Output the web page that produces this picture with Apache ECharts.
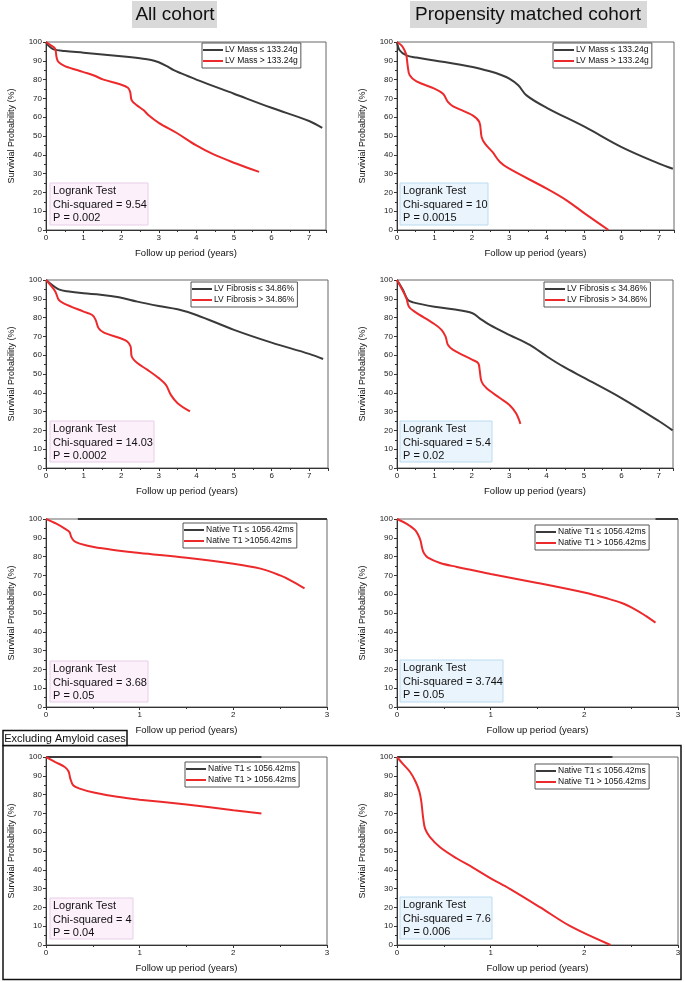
<!DOCTYPE html>
<html>
<head>
<meta charset="utf-8">
<script src="https://cdn.jsdelivr.net/npm/echarts@6/dist/echarts.min.js"></script>
<style>html,body{margin:0;padding:0;background:#fff;}#c{width:685px;height:982px;}</style>
</head>
<body>
<div id="c"></div>
<script>
// ---------- data ----------
const massAllLow = [[0,100],[0.06,98.2],[0.2,96.1],[0.5,95.2],[1,94.3],[2,92.4],[2.5,91.3],[2.8,90.4],[3,89.2],[3.2,87.3],[3.4,85],[3.6,83.3],[4,80],[5,72.5],[6,65],[7,58],[7.35,54.3]];
const massAllHigh = [[0,100],[0.1,98.6],[0.24,96.5],[0.28,92],[0.33,89.4],[0.5,87.2],[1,84],[1.26,82.3],[1.53,80],[1.97,77.5],[2.18,75.7],[2.24,73.4],[2.28,69],[2.42,66.3],[2.6,63.7],[2.73,61],[3,57],[3.48,51.6],[4,45],[4.46,40.2],[5,35.8],[5.67,30.9]];
const massPsmLow = [[0,100],[0.07,95.6],[0.25,92.9],[0.52,91.7],[1,90.2],[2.02,86.7],[2.48,84.4],[2.8,82.3],[3,80.5],[3.24,77],[3.46,71.6],[4,65],[5.02,54.8],[6,44.1],[7,35.3],[7.37,32.6]];
const massPsmHigh = [[0,100],[0.12,98.2],[0.2,95.6],[0.25,92.9],[0.29,86.7],[0.34,82.3],[0.52,79],[1,75.2],[1.23,72.5],[1.36,68.1],[1.5,65.8],[2.02,61],[2.2,57.4],[2.26,49.5],[2.35,45.9],[2.55,41.5],[2.75,36.2],[3,32.6],[4,22],[4.53,15.8],[5.02,8.7],[5.65,0]];
const fibAllLow = [[0,100],[0.2,96.8],[0.34,95],[0.56,94],[1,92.9],[1.45,92.2],[1.94,90.8],[2.43,88.5],[3,86.2],[3.5,84.4],[4,81.4],[5,73.5],[6,66.7],[7,60.7],[7.37,58]];
const fibAllHigh = [[0,100],[0.12,97.3],[0.25,93.8],[0.34,89.4],[0.47,87.6],[1,83.2],[1.23,81.4],[1.32,78.8],[1.4,74.3],[1.54,72],[1.98,69],[2.16,67.3],[2.25,64.6],[2.28,59.3],[2.43,55.8],[2.7,52.2],[3,47.8],[3.19,44.2],[3.32,38.9],[3.5,34.5],[3.83,30.1]];
const fibPsmLow = [[0,100],[0.16,94.7],[0.29,89.4],[0.43,88.1],[1,85.8],[1.5,84.4],[2.02,82.3],[2.21,79.6],[2.48,76.1],[3,70.8],[3.55,65.5],[4.01,59.3],[4.44,54],[5.02,47.8],[6,37.2],[7,25],[7.37,20]];
const fibPsmHigh = [[0,100],[0.12,95.6],[0.25,90.3],[0.32,85.8],[0.47,83.2],[1,76.6],[1.19,73.5],[1.3,69.9],[1.36,65.5],[1.5,62.8],[2.02,57.5],[2.17,55.8],[2.21,52.2],[2.26,46],[2.39,42.5],[2.75,37.2],[3,33.6],[3.18,29.2],[3.3,23.5]];
const t1AllLow = [[0.34,100],[3,100]];
const t1AllHigh = [[0,100],[0.11,97.5],[0.2,94.9],[0.25,93.1],[0.27,90.4],[0.3,88.3],[0.36,86.9],[0.51,85.1],[0.76,83.3],[1,81.9],[1.5,79.4],[2,76.2],[2.29,73.6],[2.5,70],[2.61,67.4],[2.76,63.1]];
const t1PsmLow = [[2.76,100],[3,100]];
const t1PsmHigh = [[0,100],[0.1,97.5],[0.19,94.3],[0.22,92.2],[0.25,88.7],[0.27,84.2],[0.29,81.6],[0.33,79.4],[0.46,76.6],[0.64,74.5],[0.81,72.7],[1,70.7],[1.5,66],[2,60.9],[2.24,57.8],[2.4,55.3],[2.55,51.7],[2.66,48.3],[2.76,44.9]];
const exAllLow = [[0,100],[2.3,100]];
const exAllHigh = [[0,100],[0.1,97.3],[0.2,94.7],[0.24,92.4],[0.26,88.5],[0.29,85],[0.36,83.2],[0.51,81.1],[0.76,78.8],[1,77.3],[1.5,74.7],[2,71.7],[2.3,69.9]];
const exPsmLow = [[0,100],[2.3,100]];
const exPsmHigh = [[0,100],[0.06,96.5],[0.14,92],[0.2,86.7],[0.24,81.4],[0.26,76.1],[0.28,67.3],[0.3,61.9],[0.35,57.5],[0.46,52],[0.64,46],[0.81,41.2],[1,35.5],[1.2,30],[1.53,20],[1.85,10],[2.28,0]];

const lowNames = ['LV Mass ≤ 133.24g','LV Mass ≤ 133.24g','LV Fibrosis ≤ 34.86%','LV Fibrosis ≤ 34.86%','Native T1 ≤ 1056.42ms','Native T1 ≤ 1056.42ms','Native T1 ≤ 1056.42ms','Native T1 ≤ 1056.42ms'];
const highNames = ['LV Mass > 133.24g','LV Mass > 133.24g','LV Fibrosis > 34.86%','LV Fibrosis > 34.86%','Native T1 >1056.42ms','Native T1 > 1056.42ms','Native T1 > 1056.42ms','Native T1 > 1056.42ms'];
const lowData = [massAllLow,massPsmLow,fibAllLow,fibPsmLow,t1AllLow,t1PsmLow,exAllLow,exPsmLow];
const highData = [massAllHigh,massPsmHigh,fibAllHigh,fibPsmHigh,t1AllHigh,t1PsmHigh,exAllHigh,exPsmHigh];
const xMax = [7.45,7.4,7.5,7.38,3,3,3,3];
const chiSq = ['9.54','10','14.03','5.4','3.68','3.744','4','7.6'];
const pVals = ['0.002','0.0015','0.0002','0.02','0.05','0.05','0.04','0.006'];
const columnTitles = ['All cohort','Propensity matched cohort'];
const yName = 'Survivial Probability (%)';
const xName = 'Follow up period (years)';
const frameLabel = 'Excluding Amyloid cases';

// ---------- layout ----------
const FONT = 'Liberation Sans, Arial, Helvetica, sans-serif';
const grids = [
  {left:46,top:42,width:280},{left:397,top:42,width:277},
  {left:46,top:280,width:282},{left:397,top:280,width:276},
  {left:46,top:519,width:281},{left:397,top:519,width:281},
  {left:46,top:757,width:281},{left:397,top:757,width:281}
];
const legendPos = [[202,43],[553,43],[191,282],[544,282],[183,523],[535,525],[185,762],[535,764]];
const statBoxes = [
  {x:50,y:183,w:98,h:42},{x:400,y:183,w:88,h:42},
  {x:50,y:421,w:104,h:41},{x:400,y:421,w:92,h:41},
  {x:50,y:661,w:98,h:41},{x:400,y:660,w:103,h:42},
  {x:50,y:898,w:83,h:41},{x:400,y:897,w:92,h:42}
];

const option = {
  animation:false,
  backgroundColor:'#fff',
  textStyle:{fontFamily:FONT},
  grid: grids.map(g=>({left:g.left,top:g.top,width:g.width,height:188,show:true,borderColor:'#666',borderWidth:1,backgroundColor:'transparent'})),
  xAxis: grids.map((g,i)=>({
    type:'value', gridIndex:i, min:0, max:xMax[i], interval:1,
    name:xName, nameLocation:'middle', nameGap:18,
    nameTextStyle:{fontSize:9.5,color:'#111',fontFamily:FONT},
    axisLine:{show:true,onZero:false,lineStyle:{color:'#333',width:1}},
    axisTick:{show:true,length:3,lineStyle:{color:'#333'}},
    minorTick:{show:true,splitNumber:2,length:2,lineStyle:{color:'#333'}},
    splitLine:{show:false},
    axisLabel:{fontSize:8,color:'#1a1a1a',margin:4,showMaxLabel:Number.isInteger(xMax[i]),fontFamily:FONT}
  })),
  yAxis: grids.map((g,i)=>({
    type:'value', gridIndex:i, min:0, max:100, interval:10,
    name:yName, nameLocation:'middle', nameGap:30,
    nameTextStyle:{fontSize:9,color:'#111',fontFamily:FONT},
    axisLine:{show:true,lineStyle:{color:'#333',width:1}},
    axisTick:{show:true,length:3,lineStyle:{color:'#333'}},
    minorTick:{show:true,splitNumber:2,length:2,lineStyle:{color:'#333'}},
    splitLine:{show:false},
    axisLabel:{fontSize:8,color:'#1a1a1a',margin:4,fontFamily:FONT}
  })),
  legend: grids.map((g,i)=>({
    orient:'vertical', left:legendPos[i][0], top:legendPos[i][1],
    data:[lowNames[i],highNames[i]],
    icon:'rect', itemWidth:20, itemHeight:2, itemGap:1,
    padding:[2,3,2,1], borderColor:'#555', borderWidth:1, backgroundColor:'#fff',
    textStyle:{fontSize:8.5,color:'#111',lineHeight:10,padding:[0,0,0,-3],fontFamily:FONT},
    selectedMode:false
  })),
  series: [],
  graphic: []
};

for (let i=0;i<8;i++){
  option.series.push({type:'line',name:lowNames[i],xAxisIndex:i,yAxisIndex:i,data:lowData[i],
    showSymbol:false,symbol:'none',smooth:0.35,clip:false,
    lineStyle:{color:'#3a3a3a',width:2},itemStyle:{color:'#3a3a3a'},z:3});
  option.series.push({type:'line',name:highNames[i],xAxisIndex:i,yAxisIndex:i,data:highData[i],
    showSymbol:false,symbol:'none',smooth:0.35,clip:false,
    lineStyle:{color:'#ec2a2c',width:2},itemStyle:{color:'#ec2a2c'},z:4});
}

// column titles
const titleBoxes = [{x:132,w:85,cx:175},{x:410,w:237,cx:528}];
titleBoxes.forEach((b,k)=>{
  option.graphic.push({type:'rect',shape:{x:b.x,y:1,width:b.w,height:27},style:{fill:'#d9d9d9'},z:1});
  option.graphic.push({type:'text',x:b.cx,y:15,style:{text:columnTitles[k],fontSize:19,fontFamily:FONT,fill:'#111',align:'center',verticalAlign:'middle'},z:2});
});

// logrank boxes
statBoxes.forEach((b,i)=>{
  const left = i%2===0;
  option.graphic.push({type:'rect',shape:{x:b.x,y:b.y,width:b.w,height:b.h},
    style:{fill:left?'#fcf0fb':'#eaf4fc',stroke:left?'#e8cfe8':'#bcdcf2',lineWidth:1},z:5});
  option.graphic.push({type:'text',x:b.x+3,y:b.y+1.5,
    style:{text:'Logrank Test\nChi-squared = '+chiSq[i]+'\nP = '+pVals[i],fontSize:11,lineHeight:13.5,fontFamily:FONT,fill:'#111',align:'left',verticalAlign:'top'},z:6});
});

// excluding amyloid frame
option.graphic.push({type:'rect',shape:{x:3,y:745.5,width:678,height:234},style:{fill:'none',stroke:'#111',lineWidth:1.5},z:7});
option.graphic.push({type:'rect',shape:{x:3,y:730.5,width:124,height:15},style:{fill:'#fff',stroke:'#111',lineWidth:1.5},z:7});
option.graphic.push({type:'text',x:65,y:738.5,style:{text:frameLabel,fontSize:11,fontFamily:FONT,fill:'#111',align:'center',verticalAlign:'middle'},z:8});

const chart = echarts.init(document.getElementById('c'));
chart.setOption(option);
</script>
</body>
</html>
